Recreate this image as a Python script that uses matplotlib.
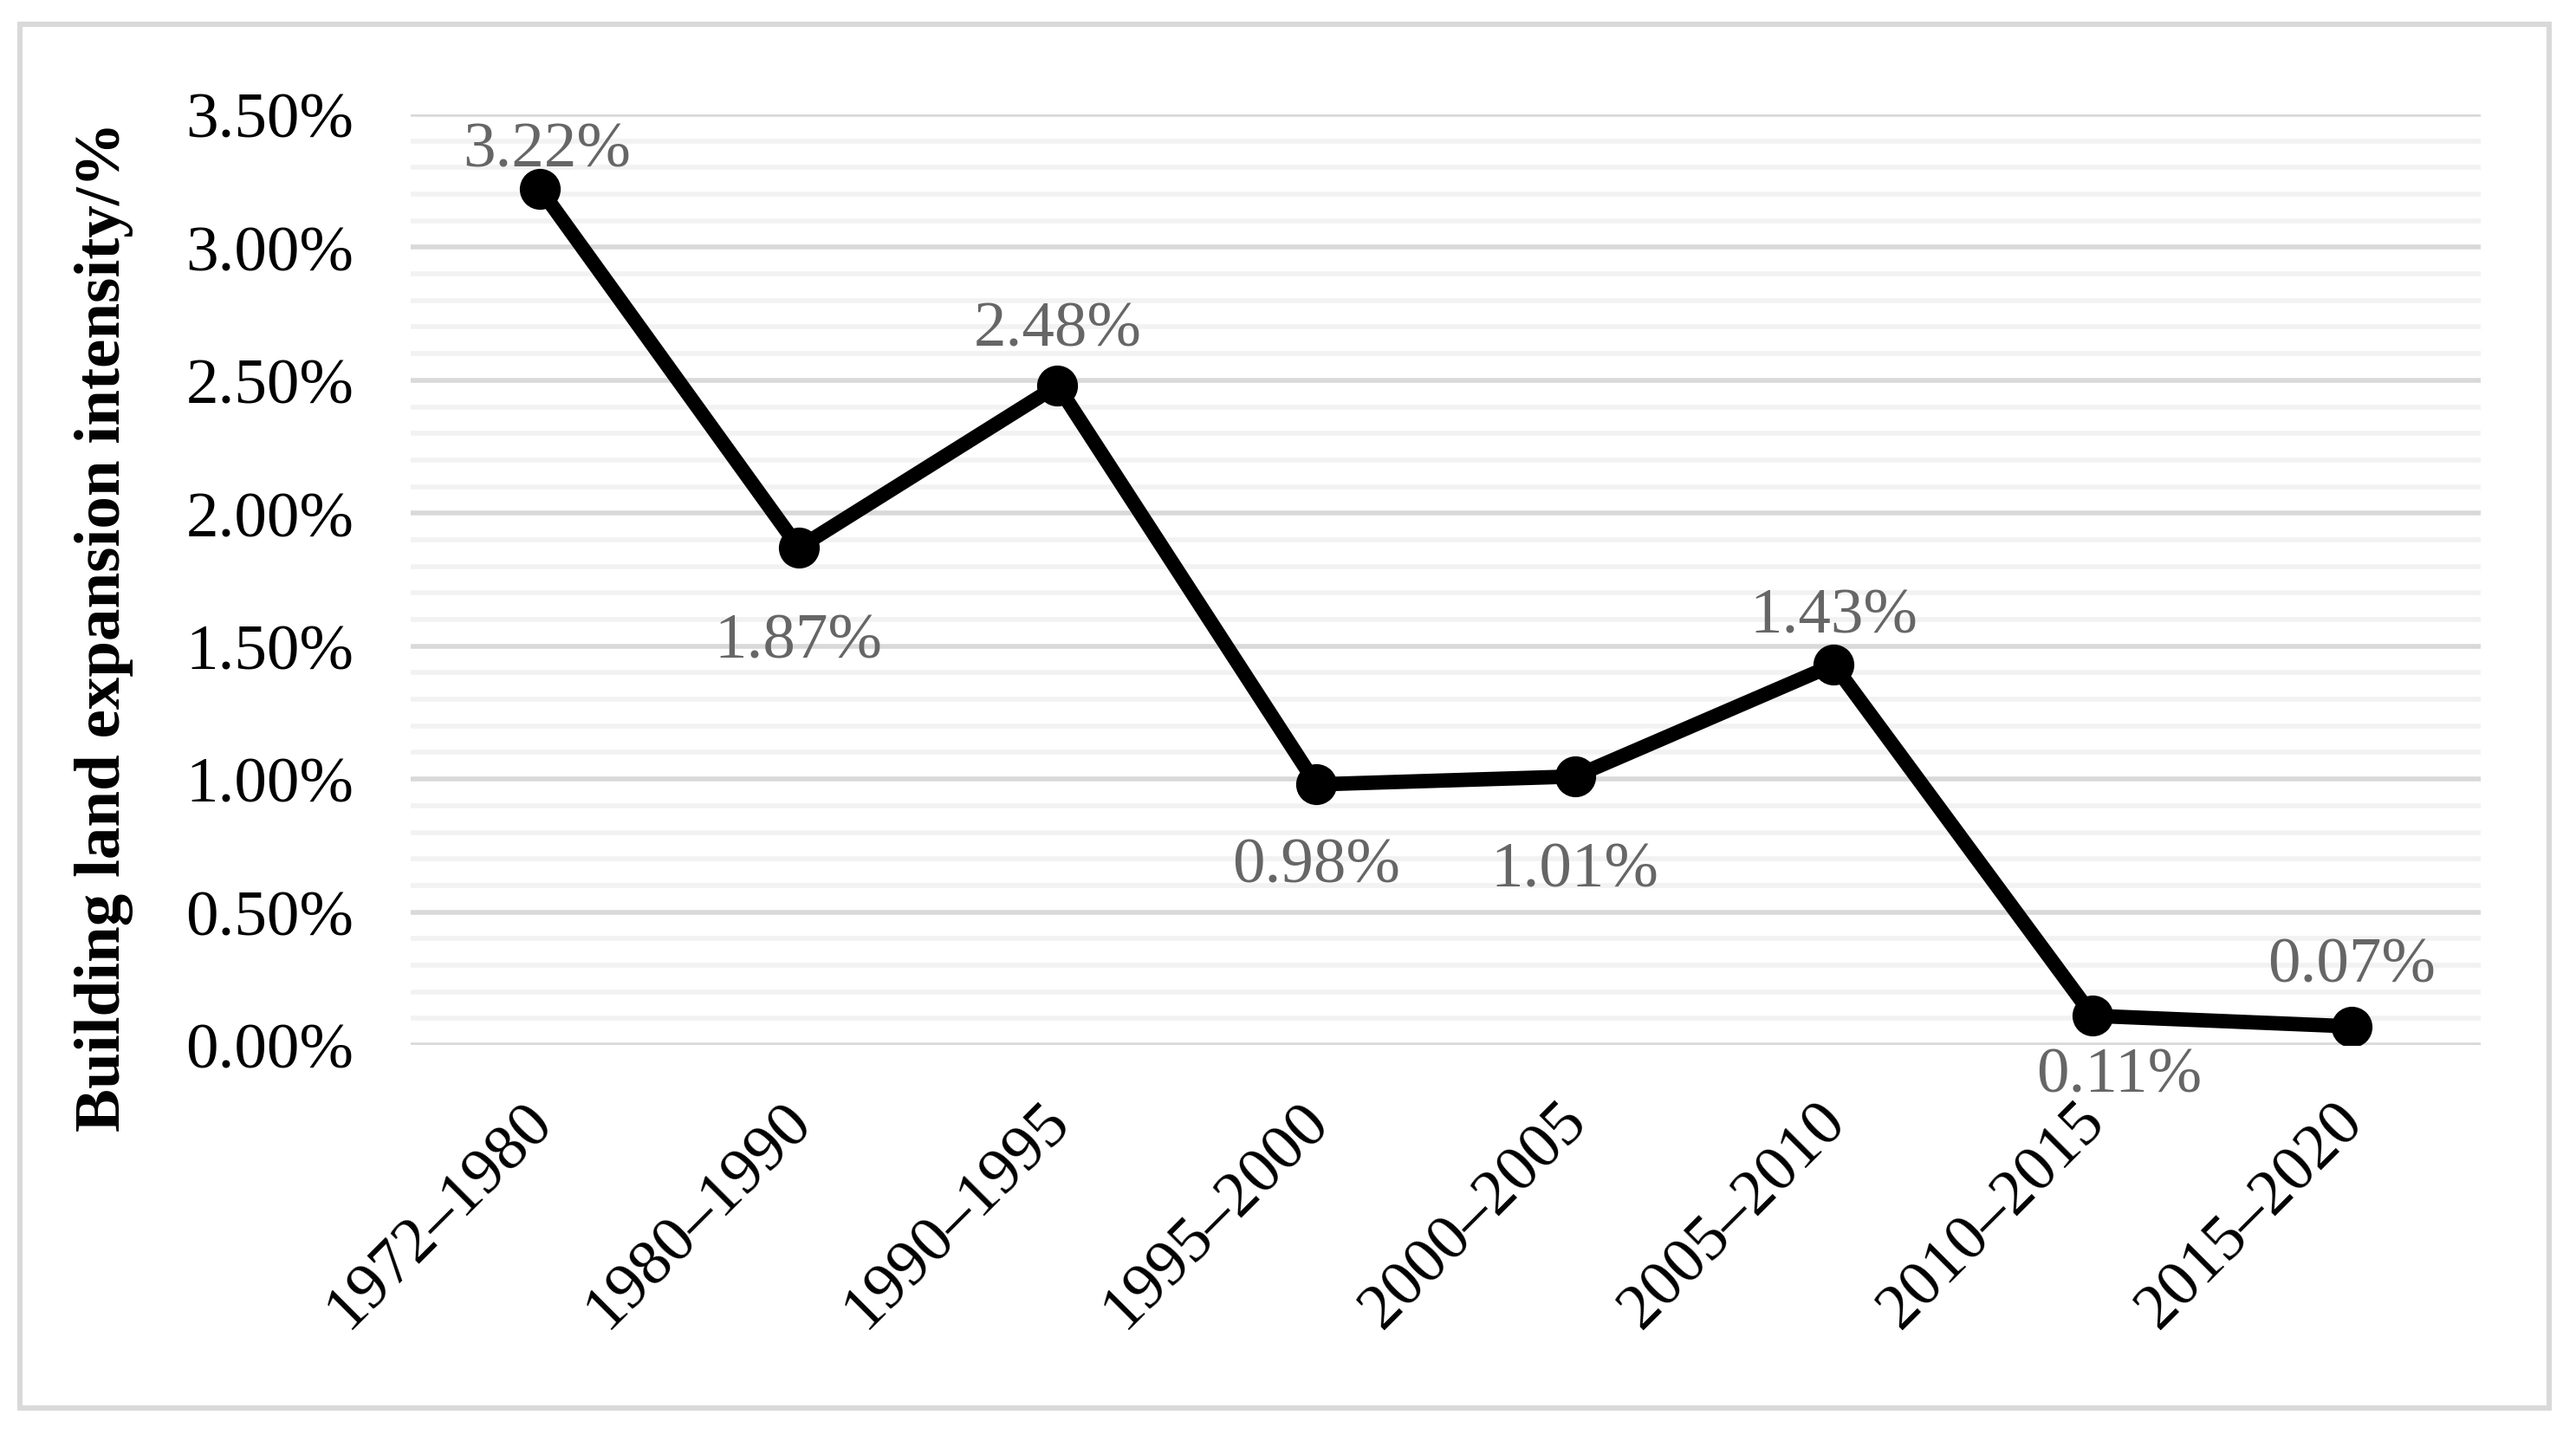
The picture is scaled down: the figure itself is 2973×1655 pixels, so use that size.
import numpy as np
import matplotlib
matplotlib.use("Agg")
import matplotlib.pyplot as plt
import matplotlib.transforms as mtransforms
from matplotlib.patches import Rectangle
from matplotlib.ticker import MultipleLocator, FuncFormatter

# data
periods = ["1972–1980", "1980–1990", "1990–1995", "1995–2000",
           "2000–2005", "2005–2010", "2010–2015", "2015–2020"]
intensity = [3.22, 1.87, 2.48, 0.98, 1.01, 1.43, 0.11, 0.07]

# label offsets in points (x, y), + y above the point, - below
label_dy = [16, -39, 23, -34, -39, 20, -25, 25]
label_dx = [3, 0, 0, 0, 0, 0, 11, 0]

plt.rcParams['font.family'] = ['Liberation Serif', 'DejaVu Serif']

DPI = 200
fig = plt.figure(figsize=(2973 / DPI, 1656 / DPI), dpi=DPI)
ax = fig.add_axes([0.1594, 0.2711, 0.963 - 0.1594, 0.9197 - 0.2711])

x = np.arange(len(periods))
ax.plot(x, intensity, color='black', lw=6, marker='o', ms=16,
        solid_joinstyle='round', solid_capstyle='round', zorder=3)

for xi, v, dx, dy in zip(x, intensity, label_dx, label_dy):
    ax.annotate(f"{v:.2f}%", (xi, v), xytext=(dx, dy), textcoords='offset points',
                ha='center', va='center', fontsize=27, color='#666666', zorder=4)

ax.set_xlim(-0.5, len(periods) - 0.5)
ax.set_ylim(0, 3.5)
ax.yaxis.set_major_locator(MultipleLocator(0.5))
ax.yaxis.set_minor_locator(MultipleLocator(0.1))
ax.yaxis.set_major_formatter(FuncFormatter(lambda v, p: f"{v:.2f}%"))
ax.grid(which='major', axis='y', color='#D9D9D9', lw=2)
ax.grid(which='minor', axis='y', color='#F2F2F2', lw=2)
ax.set_axisbelow(True)
for s in ax.spines.values():
    s.set_visible(False)

ax.tick_params(axis='both', which='both', length=0)
ax.tick_params(axis='y', pad=23.5, labelsize=27)
ax.set_xticks(x)
ax.set_xticklabels(periods, rotation=45, ha='right', va='center',
                   rotation_mode='anchor', fontsize=27)
ax.tick_params(axis='x', pad=28)
shift = mtransforms.ScaledTranslation(4 / DPI, 0, fig.dpi_scale_trans)
for lbl in ax.get_xticklabels():
    lbl.set_transform(lbl.get_transform() + shift)

fig.text(0.0464, 0.5634, "Building land expansion intensity/%", rotation=90,
         rotation_mode='anchor', fontweight='bold', fontsize=27,
         ha='center', va='baseline')

fig.patches.append(Rectangle((0.00774, 0.01812), 0.9818, 0.9644, transform=fig.transFigure,
                             fill=False, edgecolor='#D9D9D9', lw=2.2))

fig.savefig("out.png", dpi=DPI)
plt.close(fig)
